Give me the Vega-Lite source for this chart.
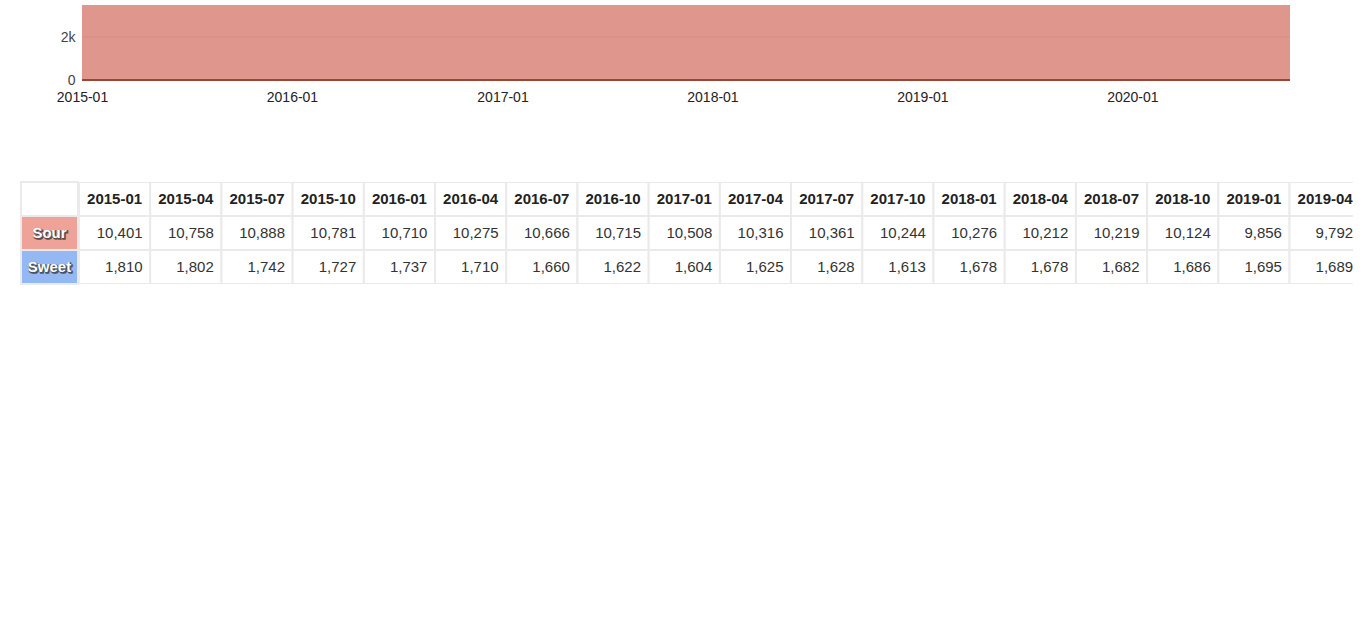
{
  "$schema": "https://vega.github.io/schema/vega-lite/v6.json",
  "background": "white",
  "padding": {"left": 20, "top": 5, "right": 8, "bottom": 5},
  "spacing": 77,
  "config": {
    "view": {"stroke": null},
    "font": "Liberation Sans",
    "axis": {"labelFont": "Liberation Sans"},
    "text": {"font": "Liberation Sans"}
  },
  "datasets": {
    "quarters": [
      {"date": "2015-01", "Sour": 10401, "Sweet": 1810},
      {"date": "2015-04", "Sour": 10758, "Sweet": 1802},
      {"date": "2015-07", "Sour": 10888, "Sweet": 1742},
      {"date": "2015-10", "Sour": 10781, "Sweet": 1727},
      {"date": "2016-01", "Sour": 10710, "Sweet": 1737},
      {"date": "2016-04", "Sour": 10275, "Sweet": 1710},
      {"date": "2016-07", "Sour": 10666, "Sweet": 1660},
      {"date": "2016-10", "Sour": 10715, "Sweet": 1622},
      {"date": "2017-01", "Sour": 10508, "Sweet": 1604},
      {"date": "2017-04", "Sour": 10316, "Sweet": 1625},
      {"date": "2017-07", "Sour": 10361, "Sweet": 1628},
      {"date": "2017-10", "Sour": 10244, "Sweet": 1613},
      {"date": "2018-01", "Sour": 10276, "Sweet": 1678},
      {"date": "2018-04", "Sour": 10212, "Sweet": 1678},
      {"date": "2018-07", "Sour": 10219, "Sweet": 1682},
      {"date": "2018-10", "Sour": 10124, "Sweet": 1686},
      {"date": "2019-01", "Sour": 9856, "Sweet": 1695},
      {"date": "2019-04", "Sour": 9792, "Sweet": 1689},
      {"date": "2019-07", "Sour": 9710, "Sweet": 1692},
      {"date": "2019-10", "Sour": 9630, "Sweet": 1701},
      {"date": "2020-01", "Sour": 9550, "Sweet": 1706},
      {"date": "2020-04", "Sour": 9480, "Sweet": 1712},
      {"date": "2020-07", "Sour": 9410, "Sweet": 1718},
      {"date": "2020-10", "Sour": 9350, "Sweet": 1722}
    ]
  },
  "vconcat": [
    {
      "width": 1269,
      "height": 75,
      "data": {"name": "quarters"},
      "transform": [{"fold": ["Sour", "Sweet"], "as": ["series", "value"]}],
      "encoding": {
        "x": {
          "field": "date",
          "type": "temporal",
          "scale": {"type": "utc", "nice": false, "range": [61, 1269]},
          "axis": {
            "title": null,
            "format": "%Y-%m",
            "tickCount": {"interval": "year", "step": 1},
            "ticks": false,
            "grid": false,
            "labelFlush": false,
            "labelOverlap": false,
            "labelPadding": 10,
            "labelFontSize": 14,
            "labelColor": "#222222",
            "domain": false
          }
        }
      },
      "layer": [
        {
          "mark": {"type": "rule", "color": "#e6e6e6", "strokeWidth": 1},
          "encoding": {
            "x": {"aggregate": "min", "field": "date", "type": "temporal"},
            "x2": {"aggregate": "max", "field": "date"},
            "y": {"datum": 2000, "type": "quantitative", "scale": {"domain": [0, 3490], "nice": false}}
          }
        },
        {
          "mark": {"type": "area", "clip": true, "opacity": 0.6},
          "encoding": {
            "y": {
              "field": "value",
              "type": "quantitative",
              "stack": "zero",
              "scale": {"domain": [0, 3490], "nice": false},
              "axis": {
                "title": null,
                "values": [0, 2000],
                "format": "~s",
                "labelExpr": "datum.value === 0 ? '0' : datum.label",
                "ticks": false,
                "domain": false,
                "grid": false,
                "offset": -61,
                "labelPadding": 7,
                "labelFontSize": 14,
                "labelColor": "#444444"
              }
            },
            "color": {
              "field": "series",
              "type": "nominal",
              "scale": {"domain": ["Sour", "Sweet"], "range": ["#CA5241", "#4F7FE0"]},
              "legend": null
            },
            "order": {"field": "series", "sort": "ascending"}
          }
        },
        {
          "mark": {"type": "rule", "color": "#9A4538", "strokeWidth": 2},
          "encoding": {
            "x": {"aggregate": "min", "field": "date", "type": "temporal"},
            "x2": {"aggregate": "max", "field": "date"},
            "y": {"datum": 0, "type": "quantitative", "scale": {"domain": [0, 3490], "nice": false}}
          }
        }
      ]
    },
    {
      "spacing": 0,
      "hconcat": [
        {
          "width": 57,
          "height": 102,
          "data": {"values": [{"series": "Sour"}, {"series": "Sweet"}]},
          "layer": [
            {
              "data": {"values": [{"cell": "corner"}]},
              "mark": {"type": "rect", "fill": "white", "stroke": "#eaeaea", "strokeWidth": 2},
              "encoding": {
                "y": {"datum": "h", "type": "nominal", "scale": {"domain": ["h", "Sour", "Sweet"], "paddingInner": 0, "paddingOuter": 0}, "axis": null}
              }
            },
            {
              "mark": {"type": "rect", "stroke": "#eaeaea", "strokeWidth": 2},
              "encoding": {
                "y": {"field": "series", "type": "nominal", "scale": {"domain": ["h", "Sour", "Sweet"], "paddingInner": 0, "paddingOuter": 0}, "axis": null},
                "fill": {"field": "series", "type": "nominal", "scale": {"domain": ["Sour", "Sweet"], "range": ["#EFA297", "#94B8F4"]}, "legend": null}
              }
            },
            {
              "mark": {"type": "text", "fontWeight": "bold", "fontSize": 15, "fill": "#3a3a3a", "stroke": "#3a3a3a", "strokeWidth": 1.6, "dx": 1, "dy": 1, "baseline": "middle", "opacity": 0.8},
              "encoding": {
                "y": {"field": "series", "type": "nominal", "scale": {"domain": ["h", "Sour", "Sweet"], "paddingInner": 0, "paddingOuter": 0}, "axis": null},
                "text": {"field": "series"}
              }
            },
            {
              "mark": {"type": "text", "fontWeight": "bold", "fontSize": 15, "fill": "white", "baseline": "middle"},
              "encoding": {
                "y": {"field": "series", "type": "nominal", "scale": {"domain": ["h", "Sour", "Sweet"], "paddingInner": 0, "paddingOuter": 0}, "axis": null},
                "text": {"field": "series"}
              }
            }
          ]
        },
        {
          "width": 1274,
          "height": 102,
          "data": {"name": "quarters"},
          "layer": [
            {
              "mark": {"type": "rect", "clip": true, "fill": "white", "stroke": "#eaeaea", "strokeWidth": 2},
              "encoding": {
                "x": {"field": "date", "type": "nominal", "sort": null, "scale": {"range": [0, 1709], "paddingInner": 0, "paddingOuter": 0}, "axis": null},
                "y": {"datum": "h", "type": "nominal", "scale": {"domain": ["h", "Sour", "Sweet"], "paddingInner": 0, "paddingOuter": 0}, "axis": null}
              }
            },
            {
              "mark": {"type": "text", "clip": true, "fontWeight": "bold", "fontSize": 15, "fill": "#222222", "baseline": "middle"},
              "encoding": {
                "x": {"field": "date", "type": "nominal", "sort": null, "scale": {"range": [0, 1709], "paddingInner": 0, "paddingOuter": 0}, "axis": null},
                "y": {"datum": "h", "type": "nominal", "scale": {"domain": ["h", "Sour", "Sweet"], "paddingInner": 0, "paddingOuter": 0}, "axis": null},
                "text": {"field": "date", "type": "temporal", "timeUnit": "utcyearmonth", "format": "%Y-%m"}
              }
            },
            {
              "transform": [{"fold": ["Sour", "Sweet"], "as": ["series", "value"]}],
              "mark": {"type": "rect", "clip": true, "fill": "white", "stroke": "#eaeaea", "strokeWidth": 2},
              "encoding": {
                "x": {"field": "date", "type": "nominal", "sort": null, "scale": {"range": [0, 1709], "paddingInner": 0, "paddingOuter": 0}, "axis": null},
                "y": {"field": "series", "type": "nominal", "scale": {"domain": ["h", "Sour", "Sweet"], "paddingInner": 0, "paddingOuter": 0}, "axis": null}
              }
            },
            {
              "transform": [{"fold": ["Sour", "Sweet"], "as": ["series", "value"]}],
              "mark": {"type": "text", "clip": true, "fontSize": 15, "fill": "#333333", "align": "right", "dx": 28, "baseline": "middle"},
              "encoding": {
                "x": {"field": "date", "type": "nominal", "sort": null, "scale": {"range": [0, 1709], "paddingInner": 0, "paddingOuter": 0}, "axis": null},
                "y": {"field": "series", "type": "nominal", "scale": {"domain": ["h", "Sour", "Sweet"], "paddingInner": 0, "paddingOuter": 0}, "axis": null},
                "text": {"field": "value", "type": "quantitative", "format": ",d"}
              }
            }
          ]
        }
      ]
    }
  ]
}
